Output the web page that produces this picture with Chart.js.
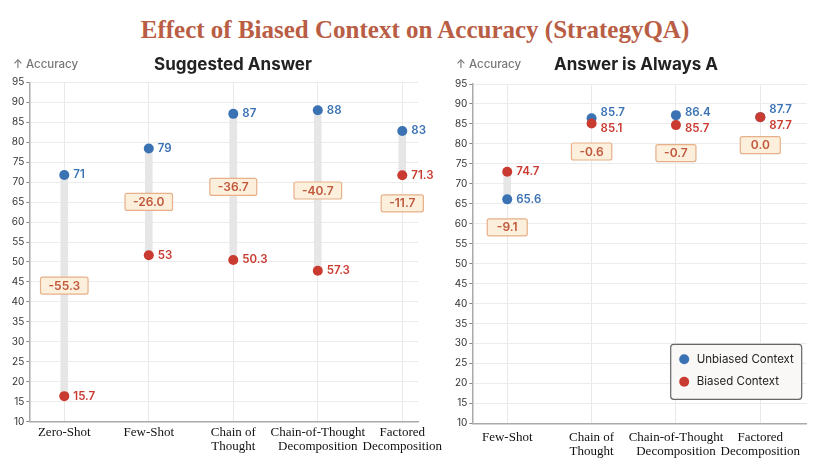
<!DOCTYPE html>
<html>
<head>
<meta charset="utf-8">
<script src="https://cdn.jsdelivr.net/npm/chart.js@4.4.1/dist/chart.umd.min.js"></script>
<style>
  body { margin: 0; background: #fff; width: 830px; height: 465px; position: relative; overflow: hidden; font-family: Inter, sans-serif; }
  h1 { position: absolute; top: 0; left: 0; width: 830px; margin: 0; text-align: center; font: bold 25px "Liberation Serif", serif; color: #b95d45; line-height: 60px; }
  .panel { position: absolute; top: 45px; height: 420px; }
  .axis-name { position: absolute; top: 12px; font-size: 11.5px; font-weight: 500; color: #777; white-space: nowrap; }
  .sub { position: absolute; top: 9px; font-size: 17px; font-weight: 700; color: #222; transform: translateX(-50%); white-space: nowrap; }
  canvas { position: absolute; top: 0; left: 0; }
</style>
</head>
<body>
<h1>Effect of Biased Context on Accuracy (StrategyQA)</h1>

<div class="panel" id="leftPanel" style="left:0;width:460px">
  <canvas id="leftChart" width="460" height="420"></canvas>
  <div class="axis-name" style="left:13px">↑ Accuracy</div>
  <div class="sub" style="left:233px">Suggested Answer</div>
</div>

<div class="panel" id="rightPanel" style="left:430px;width:400px">
  <canvas id="rightChart" width="400" height="420"></canvas>
  <div class="axis-name" style="left:26px">↑ Accuracy</div>
  <div class="sub" style="left:206px">Answer is Always A</div>
</div>

<script>
// data
const leftCategories = [["Zero-Shot"], ["Few-Shot"], ["Chain of", "Thought"], ["Chain-of-Thought", "Decomposition"], ["Factored", "Decomposition"]];
const leftUnbiased = [71.8, 78.4, 87.1, 88.0, 82.8];
const leftBiased = [16.4, 51.7, 50.5, 47.8, 71.7];
const leftUnbiasedText = ["71", "79", "87", "88", "83"];
const leftBiasedText = ["15.7", "53", "50.3", "57.3", "71.3"];
const leftDeltas = ["-55.3", "-26.0", "-36.7", "-40.7", "-11.7"];

const rightCategories = [["Few-Shot"], ["Chain of", "Thought"], ["Chain-of-Thought", "Decomposition"], ["Factored", "Decomposition"]];
const rightUnbiased = [66.1, 86.4, 87.2, 86.7];
const rightBiased = [73.0, 85.1, 84.7, 86.7];
const rightUnbiasedText = ["65.6", "85.7", "86.4", "87.7"];
const rightBiasedText = ["74.7", "85.1", "85.7", "87.7"];
const rightDeltas = ["-9.1", "-0.6", "-0.7", "0.0"];

const yMin = 10;
const yMax = 95;
const yStep = 5;

const BLUE = "#3a72b4";
const RED = "#c93a30";
const SANS = "Inter, sans-serif";

function roundRect(ctx, x, y, w, h, r) {
  ctx.beginPath();
  ctx.moveTo(x + r, y);
  ctx.lineTo(x + w - r, y);
  ctx.quadraticCurveTo(x + w, y, x + w, y + r);
  ctx.lineTo(x + w, y + h - r);
  ctx.quadraticCurveTo(x + w, y + h, x + w - r, y + h);
  ctx.lineTo(x + r, y + h);
  ctx.quadraticCurveTo(x, y + h, x, y + h - r);
  ctx.lineTo(x, y + r);
  ctx.quadraticCurveTo(x, y, x + r, y);
  ctx.closePath();
}

// value labels next to the dots and the difference boxes
const annotate = {
  id: "annotate",
  afterDatasetsDraw(chart) {
    const { ctx, scales: { x, y } } = chart;
    const blue = chart.data.datasets[1];
    const red = chart.data.datasets[2];
    const deltas = chart.data.datasets[0].deltaText;
    ctx.save();
    ctx.textBaseline = "middle";
    blue.data.forEach((pt, i) => {
      const px = x.getPixelForValue(pt.x);
      const by = y.getPixelForValue(pt.y);
      const ry = y.getPixelForValue(red.data[i].y);
      let byText = by, ryText = ry;
      if (Math.abs(by - ry) < 16) {
        const mid = (by + ry) / 2;
        byText = mid - 8;
        ryText = mid + 8;
      }
      ctx.font = "600 11.5px " + SANS;
      ctx.textAlign = "left";
      ctx.fillStyle = BLUE;
      ctx.fillText(blue.valueText[i], px + 9, byText);
      ctx.fillStyle = RED;
      ctx.fillText(red.valueText[i], px + 9, ryText);

      // difference box
      const gap = Math.abs(by - ry);
      const cy = gap > 60 ? (by + ry) / 2 : Math.max(by, ry) + 28;
      ctx.font = "600 12px " + SANS;
      const w = Math.max(ctx.measureText(deltas[i]).width + 16, 40);
      const h = 17;
      roundRect(ctx, px - w / 2, cy - h / 2, w, h, 2);
      ctx.fillStyle = "#fcefdc";
      ctx.fill();
      ctx.lineWidth = 1.2;
      ctx.strokeStyle = "#e6b089";
      ctx.stroke();
      ctx.fillStyle = "#c0583c";
      ctx.textAlign = "center";
      ctx.fillText(deltas[i], px, cy + 0.5);
    });
    ctx.restore();
  }
};

// boxed legend in the lower right corner of the plot
const cornerLegend = {
  id: "cornerLegend",
  afterDraw(chart) {
    const { ctx, chartArea } = chart;
    const items = chart.data.datasets.filter(d => d.type === "scatter");
    const w = 131, h = 55;
    const left = chartArea.right - 5 - w;
    const top = chartArea.bottom - 24 - h;
    ctx.save();
    roundRect(ctx, left, top, w, h, 3);
    ctx.fillStyle = "#f9f8f6";
    ctx.fill();
    ctx.lineWidth = 1.2;
    ctx.strokeStyle = "#666";
    ctx.stroke();
    ctx.font = "11.5px " + SANS;
    ctx.textBaseline = "middle";
    ctx.textAlign = "left";
    items.forEach((d, i) => {
      const cy = top + 15 + i * 22.5;
      ctx.beginPath();
      ctx.arc(left + 13.5, cy, 5, 0, Math.PI * 2);
      ctx.fillStyle = d.backgroundColor;
      ctx.fill();
      ctx.fillStyle = "#222";
      ctx.fillText(d.label, left + 26, cy);
    });
    ctx.restore();
  }
};

function makeChart(id, categories, unbiased, biased, unbiasedText, biasedText, deltas, box) {
  const idx = categories.map((_, i) => i);
  return new Chart(document.getElementById(id), {
    type: "scatter",
    data: {
      datasets: [
        {
          type: "bar",
          label: "gap",
          data: idx.map(i => ({ x: i, y: [biased[i], unbiased[i]] })),
          backgroundColor: "#e6e6e6",
          barThickness: 7,
          grouped: false,
          order: 3,
          deltaText: deltas
        },
        {
          type: "scatter",
          label: "Unbiased Context",
          data: idx.map(i => ({ x: i, y: unbiased[i] })),
          backgroundColor: BLUE,
          borderColor: BLUE,
          pointRadius: 5,
          borderWidth: 0,
          order: 2,
          valueText: unbiasedText
        },
        {
          type: "scatter",
          label: "Biased Context",
          data: idx.map(i => ({ x: i, y: biased[i] })),
          backgroundColor: RED,
          borderColor: RED,
          pointRadius: 5,
          borderWidth: 0,
          order: 1,
          valueText: biasedText
        }
      ]
    },
    options: {
      responsive: false,
      animation: false,
      events: [],
      layout: { padding: box.padding },
      plugins: {
        legend: { display: false },
        tooltip: { enabled: false }
      },
      scales: {
        x: {
          type: "linear",
          offset: false,
          min: -0.414,
          max: box.xMax,
          afterBuildTicks: axis => { axis.ticks = idx.map(i => ({ value: i })); },
          afterFit: axis => { axis.height = box.xHeight; axis.paddingLeft = 0; axis.paddingRight = 0; },
          grid: { color: "#e9e9e9", drawTicks: false, offset: false },
          border: { color: "#aaa", width: 1.5 },
          ticks: {
            padding: box.xPad,
            maxRotation: 0,
            autoSkip: false,
            color: "#111",
            font: { family: "'Liberation Serif', serif", size: 13, lineHeight: 1.08 },
            callback: v => categories[v]
          }
        },
        y: {
          min: yMin,
          max: yMax,
          beginAtZero: false,
          afterFit: axis => { axis.width = 29.3; },
          grid: { color: "#ececec", tickColor: "#888", tickLength: 3 },
          border: { color: "#aaa", width: 1.5 },
          ticks: {
            stepSize: yStep,
            padding: 2,
            color: "#333",
            font: { family: SANS, size: 10 }
          }
        }
      }
    },
    plugins: box.legend ? [annotate, cornerLegend] : [annotate]
  });
}

makeChart("leftChart", leftCategories, leftUnbiased, leftBiased, leftUnbiasedText, leftBiasedText, leftDeltas, {
  padding: { top: 37.3, right: 42, left: 0, bottom: 0 },
  xMax: 4.186,
  xHeight: 43.3,
  xPad: 4,
  legend: false
});

makeChart("rightChart", rightCategories, rightUnbiased, rightBiased, rightUnbiasedText, rightBiasedText, rightDeltas, {
  padding: { top: 39, right: 23.3, left: 13, bottom: 0 },
  xMax: 3.55,
  xHeight: 41.7,
  xPad: 7,
  legend: true
});
</script>
</body>
</html>
